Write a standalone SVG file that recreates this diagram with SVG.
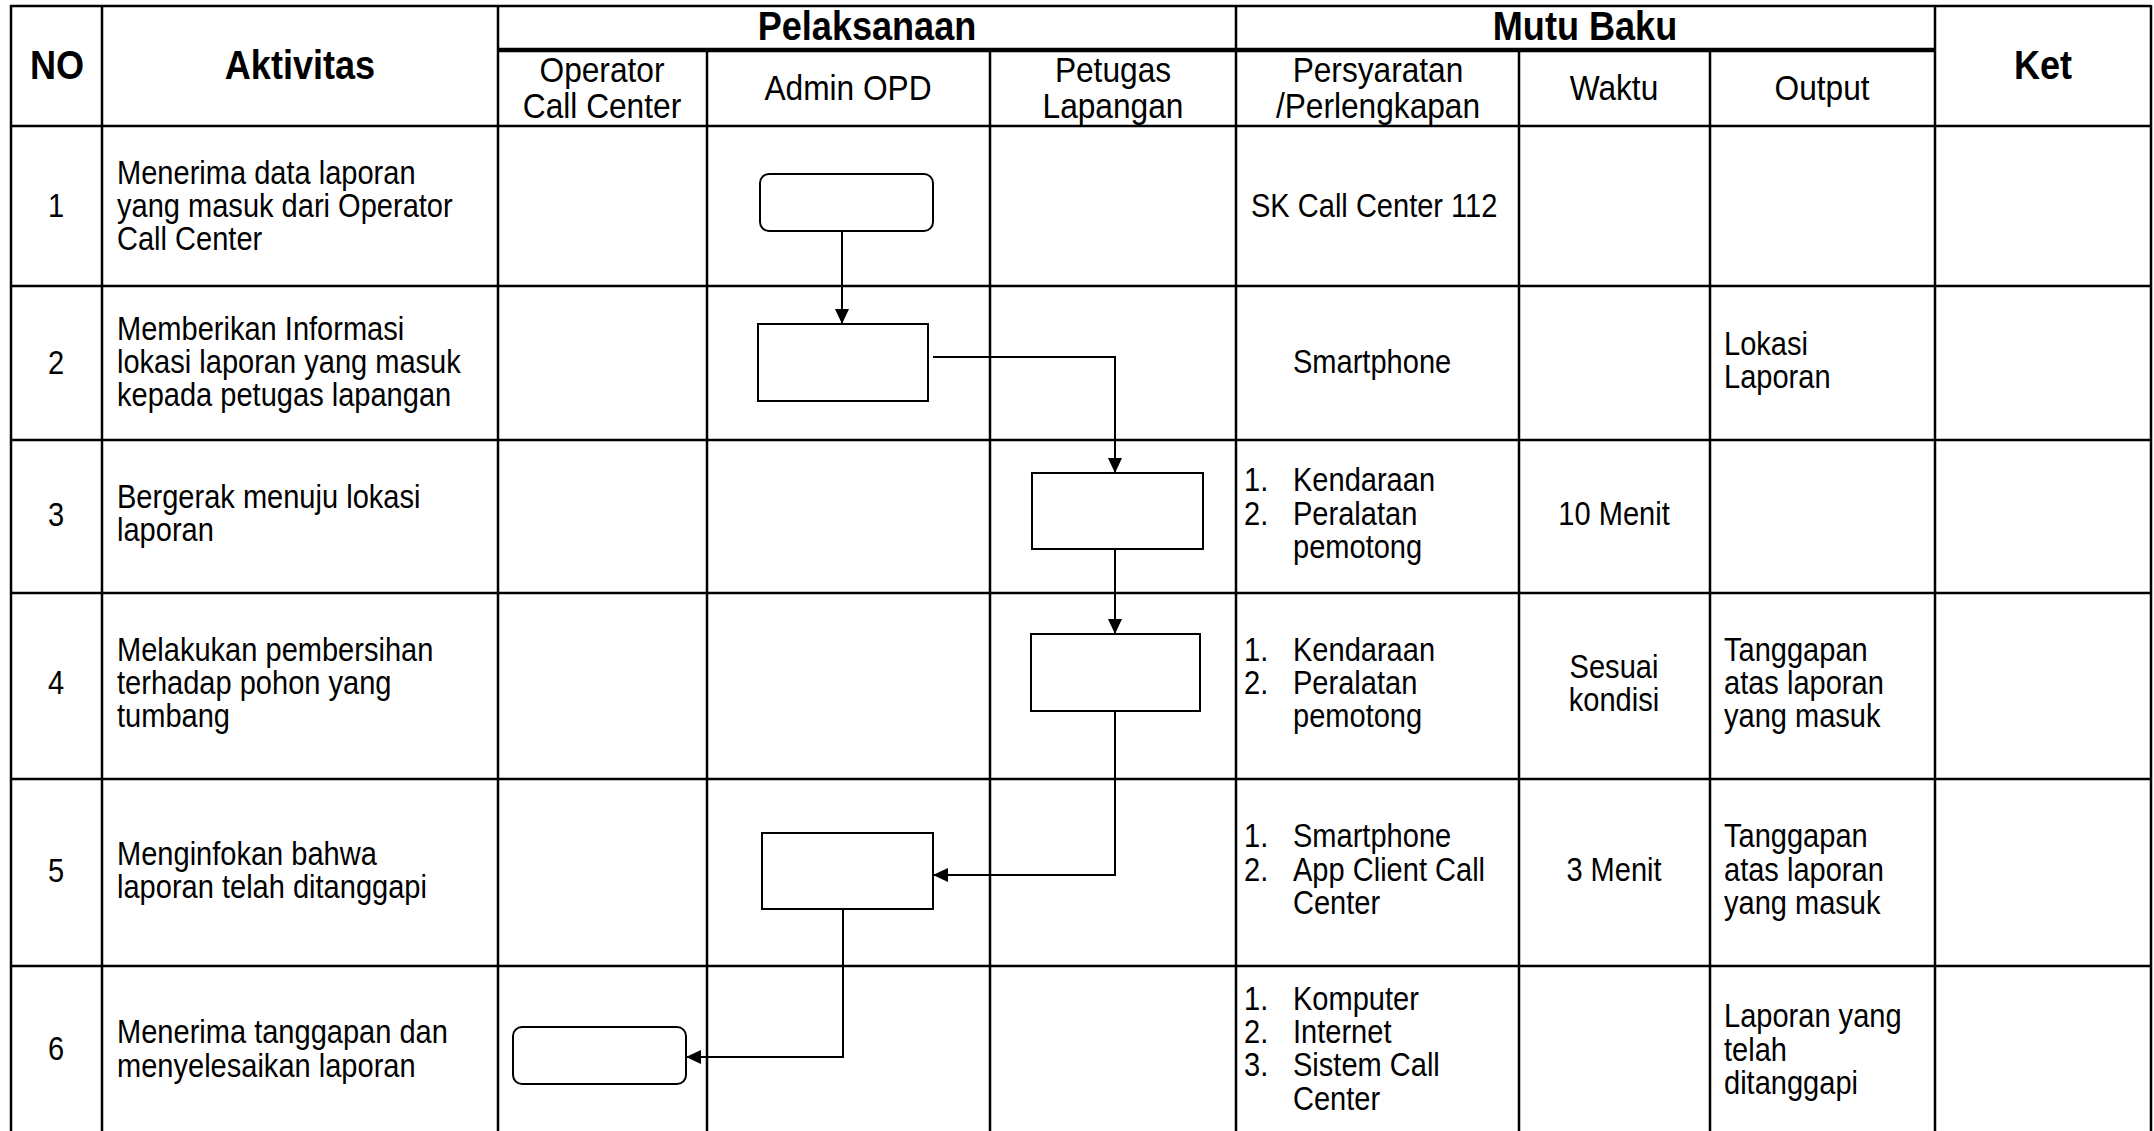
<svg xmlns="http://www.w3.org/2000/svg" width="2154" height="1131" viewBox="0 0 2154 1131">
<style>
text{font-family:"Liberation Sans",Arial,sans-serif;fill:#000;transform:scaleX(0.88);transform-box:fill-box;transform-origin:left center}
.t{font-size:33px}
.h{font-size:36px}
.b{font-size:41px;font-weight:bold}
.m{text-anchor:middle;transform-origin:center center}
.grid line{stroke:#000;stroke-width:2.5}
.node rect{fill:#fff;stroke:#000;stroke-width:2}
.conn path{fill:none;stroke:#000;stroke-width:2}
</style>
<defs>
<marker id="arr" markerUnits="userSpaceOnUse" markerWidth="15" markerHeight="14" refX="15" refY="7" orient="auto">
<path d="M0,0 L15,7 L0,14 z" fill="#000"/>
</marker>
</defs>
<rect x="0" y="0" width="2154" height="1131" fill="#fff"/>
<g class="grid" id="table">
<line x1="10" y1="6" x2="2151" y2="6"/>
<line x1="497" y1="50" x2="1934" y2="50" style="stroke-width:4.5"/>
<line x1="10" y1="126" x2="2151" y2="126"/>
<line x1="10" y1="286" x2="2151" y2="286"/>
<line x1="10" y1="440" x2="2151" y2="440"/>
<line x1="10" y1="593" x2="2151" y2="593"/>
<line x1="10" y1="779" x2="2151" y2="779"/>
<line x1="10" y1="966" x2="2151" y2="966"/>
<line x1="11" y1="5" x2="11" y2="1131"/>
<line x1="102" y1="5" x2="102" y2="1131"/>
<line x1="498" y1="5" x2="498" y2="1131"/>
<line x1="707" y1="50" x2="707" y2="1131"/>
<line x1="990" y1="50" x2="990" y2="1131"/>
<line x1="1236" y1="5" x2="1236" y2="1131"/>
<line x1="1519" y1="50" x2="1519" y2="1131"/>
<line x1="1710" y1="50" x2="1710" y2="1131"/>
<line x1="1935" y1="5" x2="1935" y2="1131"/>
<line x1="2151" y1="5" x2="2151" y2="1131"/>
</g>
<g id="header">
<text class="b m" x="57" y="79">NO</text>
<text class="b m" x="300" y="79">Aktivitas</text>
<text class="b m" x="867" y="40">Pelaksanaan</text>
<text class="b m" x="1585" y="40">Mutu Baku</text>
<text class="b m" x="2043" y="79">Ket</text>
<text class="h m" x="602" y="82">Operator</text>
<text class="h m" x="602" y="118">Call Center</text>
<text class="h m" x="848" y="100">Admin OPD</text>
<text class="h m" x="1113" y="82">Petugas</text>
<text class="h m" x="1113" y="118">Lapangan</text>
<text class="h m" x="1378" y="82">Persyaratan</text>
<text class="h m" x="1378" y="118">/Perlengkapan</text>
<text class="h m" x="1614" y="100">Waktu</text>
<text class="h m" x="1822" y="100">Output</text>
</g>
<g id="row1">
<text class="t m" x="56" y="217">1</text>
<text class="t" x="117" y="184">Menerima data laporan</text>
<text class="t" x="117" y="217">yang masuk dari Operator</text>
<text class="t" x="117" y="250">Call Center</text>
<text class="t" x="1251" y="217">SK Call Center 112</text>
</g>
<g id="row2">
<text class="t m" x="56" y="374">2</text>
<text class="t" x="117" y="340">Memberikan Informasi</text>
<text class="t" x="117" y="373">lokasi laporan yang masuk</text>
<text class="t" x="117" y="406">kepada petugas lapangan</text>
<text class="t" x="1293" y="373">Smartphone</text>
<text class="t" x="1724" y="355">Lokasi</text>
<text class="t" x="1724" y="388">Laporan</text>
</g>
<g id="row3">
<text class="t m" x="56" y="526">3</text>
<text class="t" x="117" y="508">Bergerak menuju lokasi</text>
<text class="t" x="117" y="541">laporan</text>
<text class="t" x="1244" y="491">1.</text>
<text class="t" x="1293" y="491">Kendaraan</text>
<text class="t" x="1244" y="525">2.</text>
<text class="t" x="1293" y="525">Peralatan</text>
<text class="t" x="1293" y="558">pemotong</text>
<text class="t m" x="1614" y="525">10 Menit</text>
</g>
<g id="row4">
<text class="t m" x="56" y="694">4</text>
<text class="t" x="117" y="661">Melakukan pembersihan</text>
<text class="t" x="117" y="694">terhadap pohon yang</text>
<text class="t" x="117" y="727">tumbang</text>
<text class="t" x="1244" y="661">1.</text>
<text class="t" x="1293" y="661">Kendaraan</text>
<text class="t" x="1244" y="694">2.</text>
<text class="t" x="1293" y="694">Peralatan</text>
<text class="t" x="1293" y="727">pemotong</text>
<text class="t m" x="1614" y="678">Sesuai</text>
<text class="t m" x="1614" y="711">kondisi</text>
<text class="t" x="1724" y="661">Tanggapan</text>
<text class="t" x="1724" y="694">atas laporan</text>
<text class="t" x="1724" y="727">yang masuk</text>
</g>
<g id="row5">
<text class="t m" x="56" y="882">5</text>
<text class="t" x="117" y="865">Menginfokan bahwa</text>
<text class="t" x="117" y="898">laporan telah ditanggapi</text>
<text class="t" x="1244" y="847">1.</text>
<text class="t" x="1293" y="847">Smartphone</text>
<text class="t" x="1244" y="881">2.</text>
<text class="t" x="1293" y="881">App Client Call</text>
<text class="t" x="1293" y="914">Center</text>
<text class="t m" x="1614" y="881">3 Menit</text>
<text class="t" x="1724" y="847">Tanggapan</text>
<text class="t" x="1724" y="881">atas laporan</text>
<text class="t" x="1724" y="914">yang masuk</text>
</g>
<g id="row6">
<text class="t m" x="56" y="1060">6</text>
<text class="t" x="117" y="1043">Menerima tanggapan dan</text>
<text class="t" x="117" y="1077">menyelesaikan laporan</text>
<text class="t" x="1244" y="1010">1.</text>
<text class="t" x="1293" y="1010">Komputer</text>
<text class="t" x="1244" y="1043">2.</text>
<text class="t" x="1293" y="1043">Internet</text>
<text class="t" x="1244" y="1076">3.</text>
<text class="t" x="1293" y="1076">Sistem Call</text>
<text class="t" x="1293" y="1110">Center</text>
<text class="t" x="1724" y="1027">Laporan yang</text>
<text class="t" x="1724" y="1061">telah</text>
<text class="t" x="1724" y="1094">ditanggapi</text>
</g>
<g id="node1" class="node"><rect x="760" y="174" width="173" height="57" rx="9"/></g>
<g id="node2" class="node"><rect x="758" y="324" width="170" height="77"/></g>
<g id="node3" class="node"><rect x="1032" y="473" width="171" height="76"/></g>
<g id="node4" class="node"><rect x="1031" y="634" width="169" height="77"/></g>
<g id="node5" class="node"><rect x="762" y="833" width="171" height="76"/></g>
<g id="node6" class="node"><rect x="513" y="1027" width="173" height="57" rx="9"/></g>
<g id="connectors" class="conn">
<path d="M842 231 V324" marker-end="url(#arr)"/>
<path d="M933 357 H1115 V473" marker-end="url(#arr)"/>
<path d="M1115 549 V634" marker-end="url(#arr)"/>
<path d="M1115 711 V875 H933" marker-end="url(#arr)"/>
<path d="M843 909 V1057 H686" marker-end="url(#arr)"/>
</g>
</svg>
